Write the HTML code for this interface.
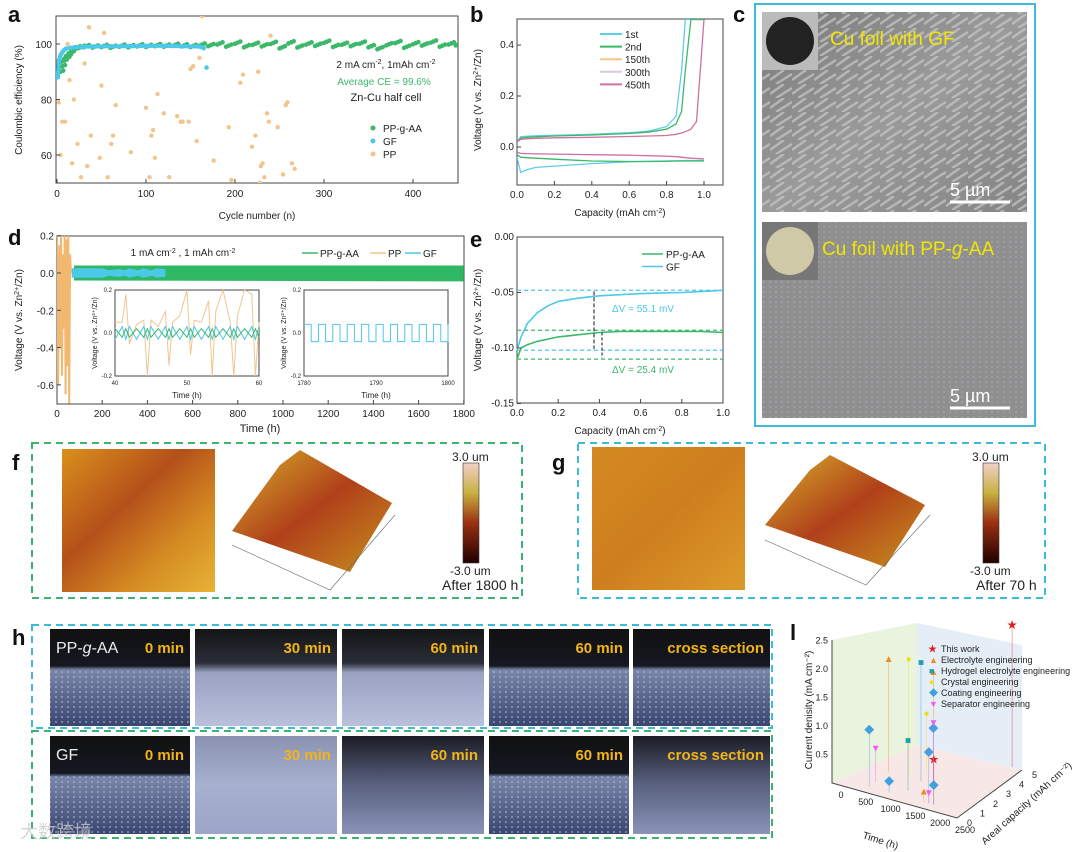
<!DOCTYPE html>
<html><head><meta charset="utf-8"><style>
html,body{margin:0;padding:0;background:#fff}
svg{display:block;font-family:"Liberation Sans","Noto Sans CJK SC",sans-serif}
.lab{font-size:22px;font-weight:bold;fill:#111}
.ax{fill:none;stroke:#444;stroke-width:1}
</style></head><body>
<svg id="fig" width="1080" height="852" viewBox="0 0 1080 852" xmlns="http://www.w3.org/2000/svg">
<defs>
<linearGradient id="afm1" x1="0" y1="0" x2="1" y2="1"><stop offset="0" stop-color="#d9901c"/><stop offset="0.4" stop-color="#b4501a"/><stop offset="0.7" stop-color="#d48a22"/><stop offset="1" stop-color="#e6b436"/></linearGradient>
<linearGradient id="afm2" x1="0" y1="0" x2="1" y2="1"><stop offset="0" stop-color="#d38a22"/><stop offset="0.5" stop-color="#cf7e1e"/><stop offset="1" stop-color="#dc9a2a"/></linearGradient>
<linearGradient id="cbar" x1="0" y1="0" x2="0" y2="1"><stop offset="0" stop-color="#f2d0c8"/><stop offset="0.3" stop-color="#c8b040"/><stop offset="0.6" stop-color="#9a3010"/><stop offset="1" stop-color="#200000"/></linearGradient>
<linearGradient id="surf" x1="0" y1="0" x2="1" y2="1"><stop offset="0" stop-color="#d8b02a"/><stop offset="0.5" stop-color="#b0401a"/><stop offset="1" stop-color="#c8901e"/></linearGradient>
<linearGradient id="opt" x1="0" y1="0" x2="0" y2="1"><stop offset="0" stop-color="#111"/><stop offset="0.38" stop-color="#141820"/><stop offset="0.42" stop-color="#7a86a8"/><stop offset="1" stop-color="#3a4670"/></linearGradient>
<linearGradient id="fog" x1="0" y1="0" x2="0" y2="1"><stop offset="0" stop-color="#151515"/><stop offset="0.35" stop-color="#2a2e38"/><stop offset="0.45" stop-color="#9aa2c0"/><stop offset="1" stop-color="#b8c0dc"/></linearGradient>
<linearGradient id="fog2" x1="0" y1="0" x2="0" y2="1"><stop offset="0" stop-color="#8a92b0"/><stop offset="0.5" stop-color="#a8b0d0"/><stop offset="1" stop-color="#9ca4c8"/></linearGradient>
<linearGradient id="fog3" x1="0" y1="0" x2="0" y2="1"><stop offset="0" stop-color="#1a1c24"/><stop offset="0.5" stop-color="#5a6280"/><stop offset="1" stop-color="#8a92b8"/></linearGradient>
<linearGradient id="sem" x1="0" y1="0" x2="1" y2="1"><stop offset="0" stop-color="#7a7a7a"/><stop offset="0.5" stop-color="#9a9a9a"/><stop offset="1" stop-color="#858585"/></linearGradient>
<pattern id="fib" width="22" height="14" patternUnits="userSpaceOnUse"><path d="M0 10 L14 0 M6 14 L22 4" stroke="#c8c8c8" stroke-width="2.5" opacity="0.7"/></pattern>
<pattern id="spk" width="6" height="5" patternUnits="userSpaceOnUse"><circle cx="2" cy="2" r="0.9" fill="#c8d0f0" opacity="0.7"/></pattern>
</defs>

<text class="lab" x="8" y="22">a</text>
<text class="lab" x="470" y="22">b</text>
<text class="lab" x="733" y="22">c</text>
<text class="lab" x="8" y="245">d</text>
<text class="lab" x="470" y="247">e</text>
<text class="lab" x="12" y="470">f</text>
<text class="lab" x="552" y="470">g</text>
<text class="lab" x="12" y="645">h</text>
<text class="lab" x="790" y="640">l</text>

<g id="pa"></g>
<g id="pb"></g>
<g id="pd"></g>
<g id="pe"></g>

<g>
<rect x="755" y="4" width="280" height="422" fill="none" stroke="#3bbcd8" stroke-width="2"/>
<rect x="762" y="12" width="265" height="200" fill="url(#sem)"/>
<rect x="762" y="12" width="265" height="200" fill="url(#fib)"/>
<rect x="762" y="12" width="56" height="58" fill="#bbb"/>
<circle cx="790" cy="41" r="24" fill="#222"/>
<text x="830" y="45" font-size="19" fill="#f2e600">Cu foil with GF</text>
<line x1="950" y1="202" x2="1010" y2="202" stroke="#fff" stroke-width="3"/>
<text x="950" y="196" font-size="18" fill="#fff">5 µm</text>
<rect x="762" y="222" width="265" height="196" fill="#8f8f8f"/>
<rect x="762" y="222" width="265" height="196" fill="url(#spk)" opacity="0.5"/>
<rect x="762" y="222" width="56" height="58" fill="#777"/>
<circle cx="790" cy="251" r="24" fill="#cfc9a8"/>
<text x="822" y="255" font-size="19" fill="#f2e600">Cu foil with PP-<tspan font-style="italic">g</tspan>-AA</text>
<line x1="950" y1="408" x2="1010" y2="408" stroke="#fff" stroke-width="3"/>
<text x="950" y="402" font-size="18" fill="#fff">5 µm</text>
</g>

<g>
<rect x="32" y="443" width="490" height="155" fill="none" stroke="#3cb371" stroke-width="2" stroke-dasharray="7,5"/>
<rect x="62" y="449" width="153" height="143" fill="url(#afm1)"/>
<polygon points="232,531 280,465 300,450 378,495 392,503 350,572 330,565" fill="url(#surf)"/>
<polyline points="232,545 330,590 395,515" fill="none" stroke="#666" stroke-width="0.6"/>
<rect x="463" y="463" width="16" height="100" fill="url(#cbar)" stroke="#333" stroke-width="0.6"/>
<text x="452" y="461" font-size="12" fill="#222">3.0 um</text>
<text x="450" y="575" font-size="12" fill="#222">-3.0 um</text>
<text x="442" y="590" font-size="14" fill="#222">After 1800 h</text>
</g>

<g>
<rect x="578" y="443" width="467" height="155" fill="none" stroke="#3bbcd8" stroke-width="2" stroke-dasharray="7,5"/>
<rect x="592" y="447" width="153" height="143" fill="url(#afm2)"/>
<polygon points="765,525 810,470 830,455 912,498 925,505 885,567 866,560" fill="url(#surf)"/>
<polyline points="765,540 866,585 930,515" fill="none" stroke="#666" stroke-width="0.6"/>
<rect x="983" y="463" width="16" height="100" fill="url(#cbar)" stroke="#333" stroke-width="0.6"/>
<text x="972" y="461" font-size="12" fill="#222">3.0 um</text>
<text x="970" y="575" font-size="12" fill="#222">-3.0 um</text>
<text x="976" y="590" font-size="14" fill="#222">After 70 h</text>
</g>

<g>
<rect x="32" y="625" width="740" height="103" fill="none" stroke="#3bbcd8" stroke-width="2" stroke-dasharray="7,5"/>
<rect x="32" y="731" width="740" height="107" fill="none" stroke="#3cb371" stroke-width="2" stroke-dasharray="7,5"/>
<g id="hph"></g>
</g>

<g>
<polygon points="832,640 917,623 917,745 832,783" fill="#e4f0d6" opacity="0.8"/>
<polygon points="917,623 1022,645 1022,770 917,745" fill="#deeaf4" opacity="0.8"/>
<polygon points="832,783 917,745 1022,770 957,818" fill="#f6e4e4" opacity="0.9"/>
<polyline points="832,640 832,783 957,818 1022,770" class="ax"/>
<g id="pl"></g>
<text x="812" y="710" font-size="10" fill="#222" transform="rotate(-90 812 710)" text-anchor="middle">Current denisity (mA cm⁻²)</text>
<text x="862" y="838" font-size="10" fill="#222" transform="rotate(18 862 838)">Time (h)</text>
<text x="985" y="845" font-size="10" fill="#222" transform="rotate(-42 985 845)">Areal capacity (mAh cm⁻²)</text>
<g font-size="9" fill="#222">
<text x="928" y="652" fill="#e02020">★</text><text x="941" y="652">This work</text>
<text x="929" y="663" fill="#f08a20">▲</text><text x="941" y="663">Electrolyte engineering</text>
<text x="929" y="674" fill="#20a0b0">■</text><text x="941" y="674">Hydrogel electrolyte engineering</text>
<text x="929" y="685" fill="#e8e020">●</text><text x="941" y="685">Crystal engineering</text>
<text x="929" y="696" fill="#40a0e0">◆</text><text x="941" y="696">Coating engineering</text>
<text x="929" y="707" fill="#f060f0">▼</text><text x="941" y="707">Separator engineering</text>
</g>
</g>

<text x="20" y="838" font-size="18" fill="#ccc" opacity="0.8">大数跨境</text>
</svg>

<script>
const NS="http://www.w3.org/2000/svg";
function mk(p,tag,at){const e=document.createElementNS(NS,tag);for(const k in at)e.setAttribute(k,at[k]);p.appendChild(e);return e;}
function txt(p,x,y,s,at){const e=mk(p,'text',Object.assign({x:x,y:y,'font-size':10,fill:'#222'},at||{}));e.textContent=s;return e;}
function pathOf(xs,ys,sx,sy){return xs.map((v,i)=>(i?'L':'M')+sx(v).toFixed(1)+' '+sy(ys[i]).toFixed(1)).join(' ');}

/* ---------- panel a data ---------- */
const aCyclesG=[1,3,5,8,10,13,16,20,25,30,40,50,60,70,80,90,100,110,120,130,140,150,160,170,180,190,200,210,220,230,240,250,260,270,280,290,300,310,320,330,340,350,360,370,380,390,400,410,420,430,440,448];
const aCEG=[90,92,94,95,96,97,98,98.8,99,99.2,99.1,99.3,99.0,99.4,99.2,99.5,99.3,99.6,99.4,99.7,99.5,99.3,99.8,99.6,100.2,99.4,100.5,99.2,100.1,99.5,100.4,98.8,100.6,99.1,100.2,99.7,100.8,99.3,100.1,99.6,100.5,99.2,98.5,99.9,100.7,99.0,100.3,99.8,100.9,99.4,100.2,99.9];
const aCyclesGF=[1,2,4,6,8,10,15,20,30,40,60,80,100,120,140,160,165,168];
const aCEGF=[88,94,96,97,97.8,98.3,98.6,98.8,99,99.1,99.2,99.2,99.3,99.3,99.2,99.1,98.5,91.5];
const aCyclesPP=[2,4,6,9,12,14,17,19,23,27,31,34,36,38,48,50,53,57,61,63,66,83,100,104,106,108,110,113,120,126,135,139,141,148,150,153,157,160,163,176,193,196,206,209,219,223,226,228,229,231,233,236,238,240,248,254,257,259,264,267];
const aCEPP=[79,60,72,72,100,87,57,80,64,52,93,56,106,67,59,85,104,52,64,67,78,61,77,52,67,69,59,82,75,52,74,72,72,72,91,92,65,95,110,58,70,51,86,89,63,67,90,50,56,57,52,75,72,103,70,53,78,79,57,55];
const aXTicks=[0,100,200,300,400];
const aYTicks=[60,80,100];

(function(){
 const g=document.getElementById('pa');
 const X0=56,X1=458,Y0=16,Y1=183;
 const sx=c=>57+c*0.89;
 const sy=v=>44+(100-v)*2.775;
 mk(g,'rect',{x:X0,y:Y0,width:X1-X0,height:Y1-Y0,class:'ax'});
 const cl=mk(g,'clipPath',{id:'ca'});mk(cl,'rect',{x:X0,y:Y0,width:X1-X0,height:Y1-Y0});
 const gg=mk(g,'g',{'clip-path':'url(#ca)'});
 aCyclesPP.forEach((c,i)=>{const d=mk(gg,'circle',{cx:sx(c),cy:sy(aCEPP[i]),r:2.2,fill:'#f2c48e'});
  
  });
 aCyclesG.forEach((c,i)=>{for(let k=0;k<3;k++){const d=mk(gg,'circle',{cx:sx(c+k*3),cy:sy(aCEG[i]+(k-1)*0.4),r:2.3,fill:'#3cb86a'});
  
  }});
 aCyclesGF.forEach((c,i)=>{const d=mk(gg,'circle',{cx:sx(c),cy:sy(aCEGF[i]),r:2.3,fill:'#4cc8e8'});
  
  });
 const gl=mk(gg,'path',{d:pathOf(aCyclesGF.slice(0,17),aCEGF.slice(0,17),sx,sy),fill:'none',stroke:'#4cc8e8','stroke-width':4});
 
 
 aXTicks.forEach(t=>{mk(g,'line',{x1:sx(t),x2:sx(t),y1:Y1,y2:Y1-4,stroke:'#444'});txt(g,sx(t),Y1+14,t,{'text-anchor':'middle'});});
 aYTicks.forEach(t=>{mk(g,'line',{x1:X0,x2:X0+4,y1:sy(t),y2:sy(t),stroke:'#444'});txt(g,X0-4,sy(t)+4,t,{'text-anchor':'end'});});
 txt(g,257,219,'Cycle number (n)',{'text-anchor':'middle'});
 txt(g,22,100,'Coulombic efficiency (%)',{'text-anchor':'middle',transform:'rotate(-90 22 100)'});
 const t1=txt(g,386,68,'',{'text-anchor':'middle'});t1.innerHTML='2 mA cm<tspan dy="-4" font-size="7">-2</tspan><tspan dy="4">, 1mAh cm</tspan><tspan dy="-4" font-size="7">-2</tspan>';
 txt(g,384,85,'Average CE = 99.6%',{'text-anchor':'middle',fill:'#3cb86a'});
 txt(g,386,101,'Zn-Cu half cell',{'text-anchor':'middle','font-size':11});
 [['#3cb86a','PP-g-AA'],['#4cc8e8','GF'],['#f2c48e','PP']].forEach((l,i)=>{mk(g,'circle',{cx:373,cy:128+i*13,r:2.5,fill:l[0]});txt(g,383,132+i*13,l[1]);});
})();

/* ---------- panel b data ---------- */
const bCap=[0,0.02,0.05,0.1,0.2,0.4,0.6,0.7,0.8,0.85,0.88,0.9,0.93,0.96,0.98,1.0];
const bCharge1=[0.02,0.04,0.042,0.044,0.046,0.05,0.056,0.062,0.08,0.12,0.3,0.5,0.5,0.5,0.5,0.5];
const bCharge2=[0.02,0.035,0.038,0.04,0.043,0.047,0.053,0.058,0.07,0.09,0.14,0.3,0.5,0.5,0.5,0.5];
const bCharge450=[0.02,0.03,0.032,0.034,0.036,0.038,0.041,0.043,0.045,0.05,0.055,0.06,0.07,0.1,0.3,0.5];
const bDis1=[-0.04,-0.1,-0.09,-0.08,-0.075,-0.065,-0.058,-0.056,-0.055,-0.054,-0.054,-0.053,-0.053,-0.053,-0.053,-0.053];
const bDis2=[-0.03,-0.04,-0.042,-0.044,-0.048,-0.055,-0.057,-0.057,-0.056,-0.055,-0.055,-0.055,-0.055,-0.055,-0.055,-0.055];
const bDis450=[-0.02,-0.025,-0.026,-0.027,-0.028,-0.03,-0.032,-0.034,-0.036,-0.038,-0.04,-0.042,-0.044,-0.045,-0.046,-0.047];
const bXTicks=[0.0,0.2,0.4,0.6,0.8,1.0];
const bYTicks=[0.0,0.2,0.4];

(function(){
 const g=document.getElementById('pb');
 const X0=517,X1=723,Y0=19,Y1=185;
 const sx=c=>517+c*187;
 const sy=v=>147-v*255;
 mk(g,'rect',{x:X0,y:Y0,width:X1-X0,height:Y1-Y0,class:'ax'});
 const cl=mk(g,'clipPath',{id:'cb'});mk(cl,'rect',{x:X0,y:Y0,width:X1-X0,height:Y1-Y0});
 const gg=mk(g,'g',{'clip-path':'url(#cb)'});
 [[bCharge1,'#5ecde8'],[bCharge2,'#3cb86a'],[bCharge450,'#d070a0'],[bDis1,'#5ecde8'],[bDis2,'#3cb86a'],[bDis450,'#d070a0']].forEach(s=>{
  const p=mk(gg,'path',{d:pathOf(bCap,s[0],sx,sy),fill:'none',stroke:s[1],'stroke-width':1.3});
  
  });
 bXTicks.forEach(t=>{mk(g,'line',{x1:sx(t),x2:sx(t),y1:Y1,y2:Y1-4,stroke:'#444'});txt(g,sx(t),Y1+13,t.toFixed(1),{'text-anchor':'middle','font-size':10});});
 bYTicks.forEach(t=>{mk(g,'line',{x1:X0,x2:X0+4,y1:sy(t),y2:sy(t),stroke:'#444'});txt(g,X0-3,sy(t)+3,t.toFixed(1),{'text-anchor':'end','font-size':10});});
 const xt=txt(g,620,216,'',{'text-anchor':'middle','font-size':10});xt.innerHTML='Capacity (mAh cm<tspan dy="-3" font-size="7">-2</tspan><tspan dy="3">)</tspan>';
 const yt=txt(g,481,100,'',{'text-anchor':'middle','font-size':10,transform:'rotate(-90 481 100)'});yt.innerHTML='Voltage (V vs. Zn<tspan dy="-3" font-size="7">2+</tspan><tspan dy="3">/Zn)</tspan>';
 [['#5ecde8','1st'],['#3cb86a','2nd'],['#f2c48e','150th'],['#d8c8e0','300th'],['#d070a0','450th']].forEach((l,i)=>{mk(g,'line',{x1:600,x2:622,y1:34+i*12.6,y2:34+i*12.6,stroke:l[0],'stroke-width':2});txt(g,625,38+i*12.6,l[1],{'font-size':10});});
})();

/* ---------- panel d data ---------- */
const dBandT=[75,1800];
const dBandHi=[0.04,0.04];
const dBandLo=[-0.04,-0.045];
const dGFT=[65,170,200,230,260,280,300,320,340,360,380,400,420,440,480];
const dGFHi=[0.025,0.025,0.025,0.015,0.02,0.02,0.015,0.025,0.02,0.015,0.025,0.02,0.015,0.025,0.02];
const dPPT=[0,5,10,14,18,22,26,30,34,38,42,46,50,54,58,62];
const dPPV=[0.2,-0.6,0.15,-0.4,0.2,-0.55,0.1,-0.3,0.2,-0.65,0.18,-0.5,0.2,-0.7,0.1,0.0];
const dXTicks=[0,200,400,600,800,1000,1200,1400,1600,1800];
const dYTicks=[0.2,0.0,-0.2,-0.4,-0.6];
const dIn1T=[40,41,41.5,42,43,44,44.5,45,46,47,47.5,48,49,50,50.5,51,52,53,53.5,54,55,56,56.5,57,58,59,59.5,60];
const dIn1PP=[0.05,0.05,0.18,-0.05,0.04,0.06,-0.2,0.06,0.03,0.1,-0.15,0.05,0.08,0.2,-0.1,0.06,0.05,0.15,-0.2,0.1,0.2,0.05,-0.2,0.08,0.2,0.18,-0.2,0.05];
const dIn2T=[1780,1781,1782,1783,1784,1785,1786,1787,1788,1789,1790,1791,1792,1793,1794,1795,1796,1797,1798,1799,1800];
const dIn2V=[0.04,-0.04,0.04,-0.04,0.04,-0.04,0.04,-0.04,0.04,-0.04,0.04,-0.04,0.04,-0.04,0.04,-0.04,0.04,-0.04,0.04,-0.04,0.04];

(function(){
 const g=document.getElementById('pd');
 const X0=57,X1=464,Y0=236,Y1=404;
 const sx=t=>57+t*0.226;
 const sy=v=>273-v*186.5;
 mk(g,'rect',{x:X0,y:Y0,width:X1-X0,height:Y1-Y0,class:'ax'});
 const cl=mk(g,'clipPath',{id:'cd'});mk(cl,'rect',{x:X0,y:Y0,width:X1-X0,height:Y1-Y0});
 const gg=mk(g,'g',{'clip-path':'url(#cd)'});
 const band=mk(gg,'path',{d:pathOf(dBandT.concat(dBandT.slice().reverse()),dBandHi.concat(dBandLo.slice().reverse()),sx,sy)+'Z',fill:'#2fb864'});
 
 
 const lo=dGFHi.map(v=>-v);
 const gf=mk(gg,'path',{d:pathOf(dGFT.concat(dGFT.slice().reverse()),dGFHi.concat(lo.slice().reverse()),sx,sy)+'Z',fill:'#4cc8e8'});
 
 
 const pp=mk(gg,'path',{d:pathOf(dPPT,dPPV,sx,sy),fill:'none',stroke:'#f2b870','stroke-width':2});
 
 
 dXTicks.forEach(t=>{mk(g,'line',{x1:sx(t),x2:sx(t),y1:Y1,y2:Y1-4,stroke:'#444'});txt(g,sx(t),Y1+13,t,{'text-anchor':'middle'});});
 dYTicks.forEach(t=>{mk(g,'line',{x1:X0,x2:X0+4,y1:sy(t),y2:sy(t),stroke:'#444'});txt(g,X0-3,sy(t)+4,t.toFixed(1),{'text-anchor':'end'});});
 txt(g,260,432,'Time (h)',{'text-anchor':'middle','font-size':11});
 const yt=txt(g,22,320,'',{'text-anchor':'middle',transform:'rotate(-90 22 320)'});yt.innerHTML='Voltage (V vs. Zn<tspan dy="-3" font-size="7">2+</tspan><tspan dy="3">/Zn)</tspan>';
 const t1=txt(g,183,256,'',{'text-anchor':'middle'});t1.innerHTML='1 mA cm<tspan dy="-3" font-size="7">-2</tspan><tspan dy="3"> , 1 mAh cm</tspan><tspan dy="-3" font-size="7">-2</tspan>';
 [['#3cb86a','PP-g-AA',302],['#f2c48e','PP',370],['#4cc8e8','GF',405]].forEach(l=>{mk(g,'line',{x1:l[2],x2:l[2]+16,y1:253,y2:253,stroke:l[0],'stroke-width':1.5});txt(g,l[2]+18,257,l[1]);});
 const i1=mk(g,'g',{});
 
 
 mk(i1,'rect',{x:115,y:290,width:144,height:86,fill:'#fff',stroke:'#444'});
 const ix=t=>115+(t-40)/20*144, iy=v=>333-v*215;
 mk(i1,'path',{d:pathOf(dIn1T,dIn1PP.map(v=>Math.max(-0.2,Math.min(0.2,v))),ix,iy),fill:'none',stroke:'#f2c48e','stroke-width':1});
 mk(i1,'path',{d:pathOf(dIn1T,dIn1T.map((t,i)=>i%2?0.03:-0.03),ix,iy),fill:'none',stroke:'#4cc8e8','stroke-width':1});
 mk(i1,'path',{d:pathOf(dIn1T,dIn1T.map((t,i)=>i%2?-0.02:0.02),ix,iy),fill:'none',stroke:'#3cb86a','stroke-width':1});
 [40,50,60].forEach(t=>txt(i1,ix(t),385,t,{'text-anchor':'middle','font-size':6}));
 [0.2,0.0,-0.2].forEach(v=>txt(i1,112,iy(v)+2,v.toFixed(1),{'text-anchor':'end','font-size':6}));
 txt(i1,187,398,'Time (h)',{'text-anchor':'middle','font-size':8});
 txt(i1,97,333,'Voltage (V vs. Zn²⁺/Zn)',{'text-anchor':'middle','font-size':7,transform:'rotate(-90 97 333)'});
 const i2=mk(g,'g',{});
 
 
 mk(i2,'rect',{x:304,y:290,width:144,height:86,fill:'#fff',stroke:'#444'});
 const jx=t=>304+(t-1780)/20*144, jy=v=>333-v*215;
 const sq=[];dIn2T.forEach((t,i)=>{sq.push([t,dIn2V[i]]);if(i+1<dIn2T.length)sq.push([dIn2T[i+1],dIn2V[i]]);});
 mk(i2,'path',{d:pathOf(sq.map(s=>s[0]),sq.map(s=>s[1]),jx,jy),fill:'none',stroke:'#4cc8e8','stroke-width':1});
 [1780,1790,1800].forEach(t=>txt(i2,jx(t),385,t,{'text-anchor':'middle','font-size':6}));
 [0.2,0.0,-0.2].forEach(v=>txt(i2,301,jy(v)+2,v.toFixed(1),{'text-anchor':'end','font-size':6}));
 txt(i2,376,398,'Time (h)',{'text-anchor':'middle','font-size':8});
 txt(i2,286,333,'Voltage (V vs. Zn²⁺/Zn)',{'text-anchor':'middle','font-size':7,transform:'rotate(-90 286 333)'});
})();

/* ---------- panel e data ---------- */
const eCap=[0,0.02,0.05,0.1,0.15,0.2,0.3,0.4,0.5,0.6,0.7,0.8,0.9,1.0];
const eGF=[-0.102,-0.09,-0.078,-0.068,-0.062,-0.058,-0.055,-0.053,-0.052,-0.051,-0.0505,-0.05,-0.049,-0.048];
const ePP=[-0.11,-0.1,-0.097,-0.094,-0.092,-0.09,-0.088,-0.086,-0.085,-0.085,-0.085,-0.085,-0.085,-0.086];
const eXTicks=[0.0,0.2,0.4,0.6,0.8,1.0];
const eYTicks=[0.00,-0.05,-0.10,-0.15];

(function(){
 const g=document.getElementById('pe');
 const X0=517,X1=723,Y0=237,Y1=403;
 const sx=c=>517+c*206;
 const sy2=v=>237+(-v)*1110;
 mk(g,'rect',{x:X0,y:Y0,width:X1-X0,height:Y1-Y0,class:'ax'});
 [[-0.048,'#4cc8e8'],[-0.102,'#4cc8e8'],[-0.084,'#3cb86a'],[-0.11,'#3cb86a']].forEach(d=>mk(g,'line',{x1:X0,x2:X1,y1:sy2(d[0]),y2:sy2(d[0]),stroke:d[1],'stroke-width':1.2,'stroke-dasharray':'4,3'}));
 const a=mk(g,'path',{d:pathOf(eCap,eGF,sx,sy2),fill:'none',stroke:'#4cc8e8','stroke-width':1.6});
 
 
 const b=mk(g,'path',{d:pathOf(eCap,ePP,sx,sy2),fill:'none',stroke:'#3cb86a','stroke-width':1.6});
 
 
 mk(g,'line',{x1:594,x2:594,y1:sy2(-0.049),y2:sy2(-0.101),stroke:'#111','stroke-dasharray':'4,2'});
 mk(g,'line',{x1:602,x2:602,y1:sy2(-0.086),y2:sy2(-0.109),stroke:'#111','stroke-dasharray':'3,2'});
 txt(g,612,312,'ΔV = 55.1 mV',{fill:'#4cc8e8','font-size':10});
 txt(g,612,373,'ΔV = 25.4 mV',{fill:'#3cb86a','font-size':10});
 eXTicks.forEach(t=>{mk(g,'line',{x1:sx(t),x2:sx(t),y1:Y1,y2:Y1-4,stroke:'#444'});txt(g,sx(t),Y1+13,t.toFixed(1),{'text-anchor':'middle','font-size':10});});
 eYTicks.forEach(t=>{mk(g,'line',{x1:X0,x2:X0+4,y1:sy2(t),y2:sy2(t),stroke:'#444'});txt(g,X0-3,sy2(t)+3,t.toFixed(2),{'text-anchor':'end','font-size':10});});
 const xt=txt(g,620,434,'',{'text-anchor':'middle','font-size':10});xt.innerHTML='Capacity (mAh cm<tspan dy="-3" font-size="7">-2</tspan><tspan dy="3">)</tspan>';
 txt(g,481,320,'Voltage (V vs. Zn²⁺/Zn)',{'text-anchor':'middle','font-size':10,transform:'rotate(-90 481 320)'});
 [['#3cb86a','PP-g-AA'],['#4cc8e8','GF']].forEach((l,i)=>{mk(g,'line',{x1:642,x2:663,y1:254+i*12.5,y2:254+i*12.5,stroke:l[0],'stroke-width':1.5});txt(g,666,258+i*12.5,l[1],{'font-size':10});});
})();

/* ---------- panel h photos ---------- */
(function(){
 const g=document.getElementById('hph');
 const fills1=['url(#opt)','url(#fog)','url(#fog)','url(#opt)','url(#opt)'];
 const fills2=['url(#opt)','url(#fog2)','url(#fog3)','url(#opt)','url(#fog3)'];
 const labs=['0 min','30 min','60 min','60 min','cross section'];
 const xsA=[50,195,342,489,633],ws=[140,142,142,140,137];
 [[629,fills1],[736,fills2]].forEach((row,r)=>{
  xsA.forEach((x,i)=>{
   const rc=mk(g,'rect',{x:x,y:row[0],width:ws[i],height:r?98:97,fill:row[1][i]});
   
   
   if(row[1][i]==='url(#opt)')mk(g,'rect',{x:x,y:row[0]+40,width:ws[i],height:57,fill:'url(#spk)'});
   txt(g,x+ws[i]-6,row[0]+24,labs[i],{'text-anchor':'end','font-size':15,'font-weight':'bold',fill:'#f2b418'});
  });
 });
 txt(g,56,653,'',{'font-size':16,fill:'#eee'}).innerHTML='PP-<tspan font-style="italic">g</tspan>-AA';
 txt(g,56,760,'GF',{'font-size':16,fill:'#eee'});
})();

/* ---------- panel l data ---------- */
const lTime=[2300,600,1500,1000,1250,1900,1100,1500,600,1800,1250,1500,1900,1000,1700,600,1800];
const lCap=[5,2,2,2,2,0.5,3,2,0.5,0.5,1,2,0.5,0.5,0.5,1,0.5];
const lCur=[2.5,2.0,2.0,2.1,2.1,0.8,1.0,1.0,1.0,0.9,0.9,1.1,0.35,0.2,0.2,0.6,0.2];
const lType=['star','tri','tri','circ','sq','star','circ','dia','dia','dia','sq','tri-d','dia','dia','tri','tri-d','tri-d'];
(function(){
 const g=document.getElementById('pl');
 const px=(t,c)=>833+t*0.0496+c*13;
 const py=(t,c,z)=>783+t*0.014-c*9.6-z*57;
 [0.5,1.0,1.5,2.0,2.5].forEach(z=>txt(g,828,py(0,0,z)+3,z.toFixed(1),{'text-anchor':'end','font-size':9}));
 [0,500,1000,1500,2000,2500].forEach(t=>txt(g,px(t,0)+8,py(t,0,0)+15,t,{'text-anchor':'middle','font-size':9}));
 [0,1,2,3,4,5].forEach(c=>txt(g,px(2500,c)+10,py(2500,c,0)+8,c,{'font-size':9}));
 const col={star:'#e02020',tri:'#f08a20',sq:'#20a0b0',circ:'#e8e020',dia:'#40a0e0','tri-d':'#f060f0'};
 const gl={star:'★',tri:'▲',sq:'■',circ:'●',dia:'◆','tri-d':'▼'};
 lTime.forEach((t,i)=>{
  const x=px(t,lCap[i]),y=py(t,lCap[i],lCur[i]);
  mk(g,'line',{x1:x,x2:x,y1:y,y2:py(t,lCap[i],0),stroke:col[lType[i]],'stroke-width':0.6,opacity:0.6});
  const m=txt(g,x,y+4,gl[lType[i]],{'text-anchor':'middle','font-size':10,fill:col[lType[i]]});
  
  
 });
})();
</script>
</body></html>
